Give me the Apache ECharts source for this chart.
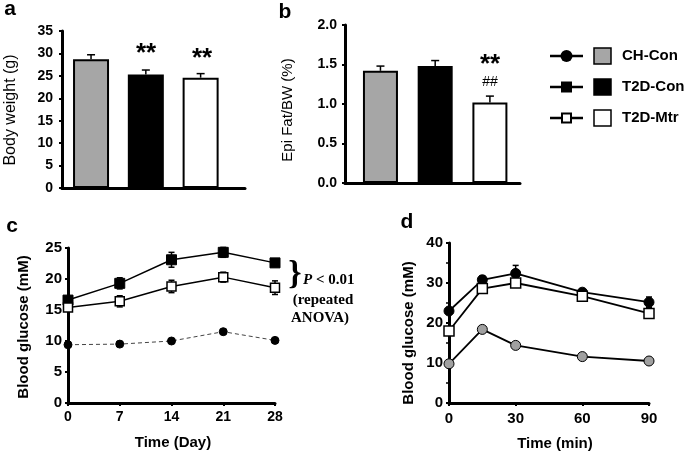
<!DOCTYPE html>
<html>
<head>
<meta charset="utf-8">
<script src="https://cdn.jsdelivr.net/npm/echarts@6/dist/echarts.min.js"></script>
<style>
html,body{margin:0;padding:0;background:#fff;}
#chart{width:685px;height:454px;}
</style>
</head>
<body>
<div id="chart"></div>
<script>
// ---- data ----
const groups = ['CH-Con', 'T2D-Con', 'T2D-Mtr'];
const barPos = [1, 2, 3];
const bodyWeight = [28.7, 25.3, 24.6];
const bodyWeightErr = [1.0, 1.0, 0.9];
const epiFat = [1.42, 1.48, 1.02];
const epiFatErr = [0.06, 0.07, 0.08];

const daysC = [0, 7, 14, 21, 28];
const glucChCon = [9.4, 9.5, 10.0, 11.5, 10.1];
const glucChConErr = [0.2, 0.2, 0.3, 0.3, 0.2];
const glucT2dCon = [16.6, 19.3, 23.1, 24.3, 22.6];
const glucT2dConErr = [0.5, 0.9, 1.2, 0.8, 0.4];
const glucT2dMtr = [15.4, 16.4, 18.8, 20.3, 18.6];
const glucT2dMtrErr = [0.5, 0.9, 1.0, 0.8, 1.1];

const minsD = [0, 15, 30, 60, 90];
const ogttChCon = [9.8, 18.4, 14.4, 11.6, 10.5];
const ogttChConErr = [0.4, 0.5, 0.5, 0.4, 0.4];
const ogttT2dCon = [23.0, 30.8, 32.4, 27.7, 25.2];
const ogttT2dConErr = [0.8, 1.0, 2.0, 0.8, 1.3];
const ogttT2dMtr = [18.0, 28.6, 30.0, 26.7, 22.4];
const ogttT2dMtrErr = [0.8, 0.8, 0.8, 0.8, 1.0];

const barColors = ['#a6a6a6', '#000000', '#ffffff'];

// ---- helpers ----
function errRender(params, api) {
  const x = api.value(0), y = api.value(1), up = api.value(2), dn = api.value(3);
  const cap = api.value(4);
  const pt = api.coord([x, y + up]);
  const pb = api.coord([x, y - dn]);
  const st = {stroke: '#000', lineWidth: 1.5};
  const ch = [
    {type: 'line', shape: {x1: pt[0], y1: pt[1], x2: pb[0], y2: pb[1]}, style: st},
    {type: 'line', shape: {x1: pt[0] - cap, y1: pt[1], x2: pt[0] + cap, y2: pt[1]}, style: st}
  ];
  if (dn > 0) ch.push({type: 'line', shape: {x1: pb[0] - cap, y1: pb[1], x2: pb[0] + cap, y2: pb[1]}, style: st});
  return {type: 'group', children: ch};
}
function errData(xs, ys, es, both, cap) {
  return xs.map((x, i) => [x, ys[i], es[i], both ? es[i] : 0, cap]);
}
function pairs(xs, ys) { return xs.map((x, i) => [x, ys[i]]); }

const axisLine = {show: true, lineStyle: {color: '#000', width: 3}};
const tickLbl = (fs, margin, fmt) => ({color: '#000', fontWeight: 'bold', fontSize: fs, fontFamily: 'Liberation Sans, Arial', margin: margin, formatter: fmt});

const option = {
  animation: false,
  backgroundColor: '#fff',
  grid: [
    {left: 62, top: 31, width: 183, height: 157},
    {left: 345, top: 25, width: 175, height: 158},
    {left: 68, top: 248, width: 207, height: 155},
    {left: 449, top: 243, width: 200, height: 160}
  ],
  xAxis: [
    {gridIndex: 0, type: 'value', min: 0.47, max: 3.81, axisLine: axisLine, axisTick: {show: false}, axisLabel: {show: false}, splitLine: {show: false}},
    {gridIndex: 1, type: 'value', min: 0.352, max: 3.55, axisLine: axisLine, axisTick: {show: false}, axisLabel: {show: false}, splitLine: {show: false}},
    {gridIndex: 2, type: 'value', min: 0, max: 28, interval: 7, axisLine: axisLine,
     axisTick: {show: true, length: 3, lineStyle: {color: '#000', width: 2}},
     axisLabel: tickLbl(14, 7), splitLine: {show: false}},
    {gridIndex: 3, type: 'value', min: 0, max: 90, interval: 30, axisLine: axisLine,
     axisTick: {show: true, length: 3, lineStyle: {color: '#000', width: 2}},
     axisLabel: tickLbl(15, 8), splitLine: {show: false}}
  ],
  yAxis: [
    {gridIndex: 0, type: 'value', min: 0, max: 35, interval: 5, axisLine: axisLine,
     axisTick: {show: true, length: 3, lineStyle: {color: '#000', width: 2}},
     axisLabel: tickLbl(14, 9), splitLine: {show: false}},
    {gridIndex: 1, type: 'value', min: 0, max: 2, interval: 0.5, axisLine: axisLine,
     axisTick: {show: true, length: 3, lineStyle: {color: '#000', width: 2}},
     axisLabel: tickLbl(14, 8, v => v.toFixed(1)), splitLine: {show: false}},
    {gridIndex: 2, type: 'value', min: 0, max: 25, interval: 5, axisLine: axisLine,
     axisTick: {show: true, length: 3, lineStyle: {color: '#000', width: 2}},
     axisLabel: tickLbl(15, 6), splitLine: {show: false}},
    {gridIndex: 3, type: 'value', min: 0, max: 40, interval: 10, axisLine: axisLine,
     axisTick: {show: true, length: 3, lineStyle: {color: '#000', width: 2}},
     minorTick: {show: true, splitNumber: 2, length: 3, lineStyle: {color: '#000', width: 1.5}},
     axisLabel: tickLbl(15, 6), splitLine: {show: false}}
  ],
  series: [
    // panel a
    {type: 'custom', xAxisIndex: 0, yAxisIndex: 0, renderItem: errRender, z: 1,
     data: errData(barPos, bodyWeight, bodyWeightErr, false, 4)},
    {type: 'bar', xAxisIndex: 0, yAxisIndex: 0, barWidth: 36, z: 2,
     data: barPos.map((x, i) => ({value: [x, bodyWeight[i]], itemStyle: {color: barColors[i], borderColor: '#000', borderWidth: 2}}))},
    // panel b
    {type: 'custom', xAxisIndex: 1, yAxisIndex: 1, renderItem: errRender, z: 1,
     data: errData(barPos, epiFat, epiFatErr, false, 4)},
    {type: 'bar', xAxisIndex: 1, yAxisIndex: 1, barWidth: 35, z: 2,
     data: barPos.map((x, i) => ({value: [x, epiFat[i]], itemStyle: {color: barColors[i], borderColor: '#000', borderWidth: 2}}))},
    // panel c
    {type: 'line', name: 'CH-Con', xAxisIndex: 2, yAxisIndex: 2, data: pairs(daysC, glucChCon), z: 3,
     symbol: 'circle', symbolSize: 8, lineStyle: {color: '#444', width: 1, type: [4, 3]},
     itemStyle: {color: '#000', borderColor: '#000', borderWidth: 1}},
    {type: 'custom', xAxisIndex: 2, yAxisIndex: 2, renderItem: errRender, z: 2,
     data: errData(daysC, glucT2dCon, glucT2dConErr, true, 3)},
    {type: 'custom', xAxisIndex: 2, yAxisIndex: 2, renderItem: errRender, z: 2,
     data: errData(daysC, glucT2dMtr, glucT2dMtrErr, true, 3)},
    {type: 'line', name: 'T2D-Con', xAxisIndex: 2, yAxisIndex: 2, data: pairs(daysC, glucT2dCon), z: 3,
     symbol: 'rect', symbolSize: 10, lineStyle: {color: '#000', width: 1.5},
     itemStyle: {color: '#000', borderColor: '#000', borderWidth: 1}},
    {type: 'line', name: 'T2D-Mtr', xAxisIndex: 2, yAxisIndex: 2, data: pairs(daysC, glucT2dMtr), z: 3,
     symbol: 'rect', symbolSize: 9, lineStyle: {color: '#000', width: 1.5},
     itemStyle: {color: '#fff', borderColor: '#000', borderWidth: 1.5}},
    // panel d
    {type: 'custom', xAxisIndex: 3, yAxisIndex: 3, renderItem: errRender, z: 2,
     data: errData(minsD, ogttT2dCon, ogttT2dConErr, true, 3)},
    {type: 'custom', xAxisIndex: 3, yAxisIndex: 3, renderItem: errRender, z: 2,
     data: errData(minsD, ogttT2dMtr, ogttT2dMtrErr, true, 3)},
    {type: 'line', name: 'CH-Con', xAxisIndex: 3, yAxisIndex: 3, data: pairs(minsD, ogttChCon), z: 3,
     symbol: 'circle', symbolSize: 10, lineStyle: {color: '#000', width: 1.8},
     itemStyle: {color: '#a0a0a0', borderColor: '#000', borderWidth: 1}},
    {type: 'line', name: 'T2D-Con', xAxisIndex: 3, yAxisIndex: 3, data: pairs(minsD, ogttT2dCon), z: 3,
     symbol: 'circle', symbolSize: 10, lineStyle: {color: '#000', width: 1.8},
     itemStyle: {color: '#000', borderColor: '#000', borderWidth: 1}},
    {type: 'line', name: 'T2D-Mtr', xAxisIndex: 3, yAxisIndex: 3, data: pairs(minsD, ogttT2dMtr), z: 4,
     symbol: 'rect', symbolSize: 10, lineStyle: {color: '#000', width: 1.8},
     itemStyle: {color: '#fff', borderColor: '#000', borderWidth: 1.5}}
  ],
  graphic: []
};

const F = 'Liberation Sans, Arial, sans-serif';
const SERIF = 'Liberation Serif, Times New Roman, serif';
function txt(x, y, text, font, opts) {
  return Object.assign({type: 'text', x: x, y: y, z: 100,
    style: Object.assign({text: text, fill: '#000', font: font, textAlign: 'center', textVerticalAlign: 'middle'}, (opts && opts.style) || {})},
    (opts && opts.el) || {});
}
function vtxt(x, y, text, font) {
  return {type: 'text', x: x, y: y, rotation: Math.PI / 2, z: 100,
    style: {text: text, fill: '#000', font: font, textAlign: 'center', textVerticalAlign: 'middle'}};
}
const G = option.graphic;
// panel letters
G.push(txt(10, 9, 'a', 'bold 21px ' + F));
G.push(txt(285, 12, 'b', 'bold 21px ' + F));
G.push(txt(12, 226, 'c', 'bold 21px ' + F));
G.push(txt(407, 222, 'd', 'bold 21px ' + F));
// axis titles
G.push(vtxt(11, 110, 'Body weight (g)', '16px ' + F));
G.push(vtxt(288, 110, 'Epi Fat/BW (%)', '15px ' + F));
G.push(vtxt(24, 327, 'Blood glucose (mM)', 'bold 15px ' + F));
G.push(vtxt(409, 333, 'Blood glucose (mM)', 'bold 15px ' + F));
G.push(txt(173, 443, 'Time (Day)', 'bold 15px ' + F));
G.push(txt(555, 444, 'Time (min)', 'bold 15px ' + F));
// significance marks
G.push(txt(146, 54, '**', 'bold 26px ' + F, {style: {letterSpacing: 2}}));
G.push(txt(202, 59, '**', 'bold 26px ' + F, {style: {letterSpacing: 2}}));
G.push(txt(490, 65, '**', 'bold 26px ' + F, {style: {letterSpacing: 2}}));
G.push(txt(490, 82, '##', '14px ' + F));
// annotation panel c
G.push(txt(295, 275, '}', 'bold 34px ' + SERIF));
G.push({type: 'text', x: 303, y: 280, z: 100, style: {
  text: '{i|P} < 0.01', fill: '#000', font: 'bold 15px ' + SERIF, textAlign: 'left', textVerticalAlign: 'middle',
  rich: {i: {fontStyle: 'italic', fontWeight: 'bold', fontSize: 15, fontFamily: SERIF}}}});
G.push(txt(323, 300, '(repeated', 'bold 15px ' + SERIF));
G.push(txt(320, 318, 'ANOVA)', 'bold 15px ' + SERIF));
// legend
const legY = [56, 87, 118];
legY.forEach((y, i) => {
  G.push({type: 'line', shape: {x1: 550, y1: y, x2: 583, y2: y}, style: {stroke: '#000', lineWidth: 2.5}, z: 100});
  if (i === 0) G.push({type: 'circle', shape: {cx: 566.5, cy: y, r: 6}, style: {fill: '#000'}, z: 101});
  if (i === 1) G.push({type: 'rect', shape: {x: 561, y: y - 5.5, width: 11, height: 11}, style: {fill: '#000'}, z: 101});
  if (i === 2) G.push({type: 'rect', shape: {x: 562, y: y - 4.5, width: 9, height: 9}, style: {fill: '#fff', stroke: '#000', lineWidth: 2}, z: 101});
  G.push({type: 'rect', shape: {x: 594, y: y - 8, width: 17, height: 16}, style: {fill: barColors[i], stroke: '#000', lineWidth: 1.5}, z: 100});
  G.push(txt(622, y, groups[i], 'bold 15px ' + F, {style: {textAlign: 'left'}}));
});

const chart = echarts.init(document.getElementById('chart'), null, {renderer: 'canvas'});
chart.setOption(option);
</script>
</body>
</html>
